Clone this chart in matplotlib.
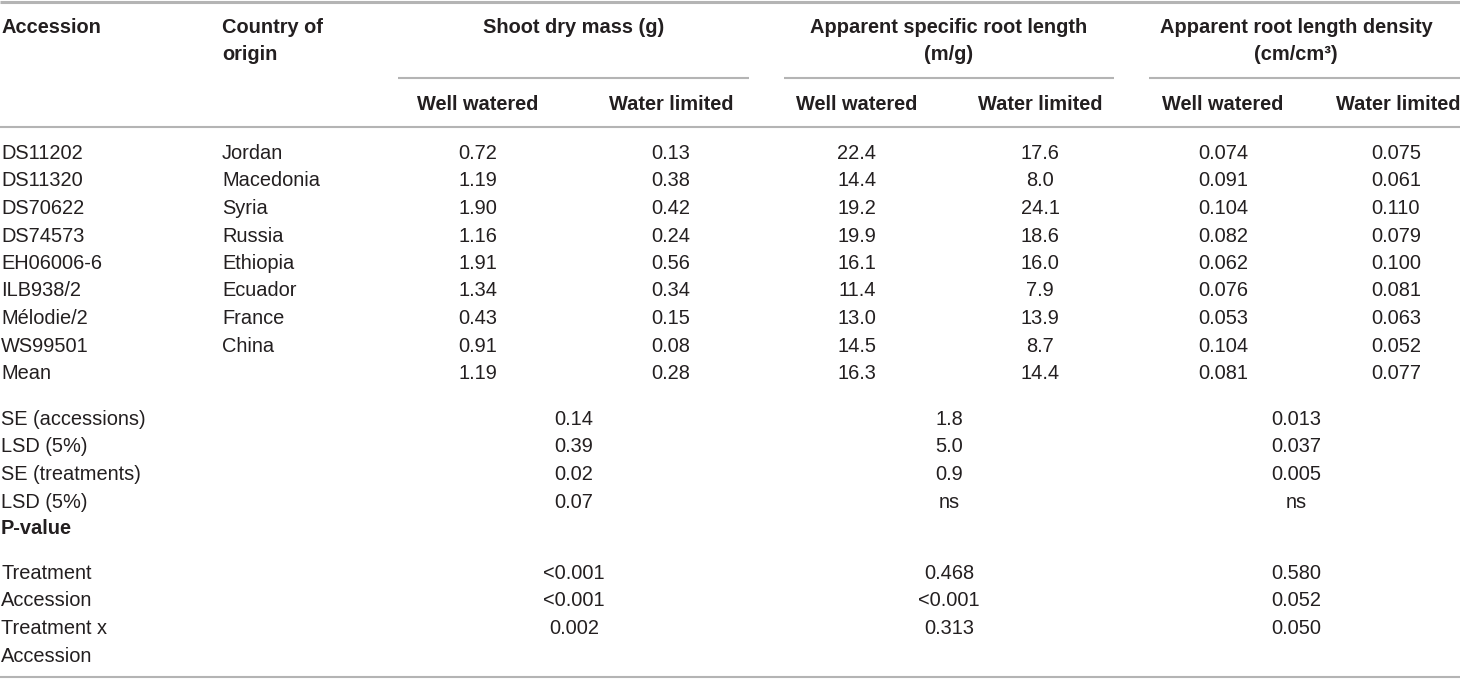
import matplotlib
matplotlib.use("Agg")
import matplotlib.pyplot as plt
from matplotlib.lines import Line2D

plt.rcParams['font.family'] = ['Liberation Sans', 'DejaVu Sans']

# ---- data ----
accessions = ["DS11202", "DS11320", "DS70622", "DS74573", "EH06006-6",
              "ILB938/2", "Mélodie/2", "WS99501", "Mean"]
countries = ["Jordan", "Macedonia", "Syria", "Russia", "Ethiopia",
             "Ecuador", "France", "China", ""]
shoot_ww = ["0.72", "1.19", "1.90", "1.16", "1.91", "1.34", "0.43", "0.91", "1.19"]
shoot_wl = ["0.13", "0.38", "0.42", "0.24", "0.56", "0.34", "0.15", "0.08", "0.28"]
srl_ww = ["22.4", "14.4", "19.2", "19.9", "16.1", "11.4", "13.0", "14.5", "16.3"]
srl_wl = ["17.6", "8.0", "24.1", "18.6", "16.0", "7.9", "13.9", "8.7", "14.4"]
rld_ww = ["0.074", "0.091", "0.104", "0.082", "0.062", "0.076", "0.053", "0.104", "0.081"]
rld_wl = ["0.075", "0.061", "0.110", "0.079", "0.100", "0.081", "0.063", "0.052", "0.077"]

stat_labels = ["SE (accessions)", "LSD (5%)", "SE (treatments)", "LSD (5%)"]
stat_shoot = ["0.14", "0.39", "0.02", "0.07"]
stat_srl = ["1.8", "5.0", "0.9", "ns"]
stat_rld = ["0.013", "0.037", "0.005", "ns"]

p_labels = ["Treatment", "Accession", "Treatment x", "Accession"]
p_shoot = ["<0.001", "<0.001", "0.002", ""]
p_srl = ["0.468", "<0.001", "0.313", ""]
p_rld = ["0.580", "0.052", "0.050", ""]

group_headers = [("Shoot dry mass (g)", ""),
                 ("Apparent specific root length", "(m/g)"),
                 ("Apparent root length density", "(cm/cm³)")]
sub_headers = ["Well watered", "Water limited"]

# ---- layout (pixels) ----
W, H = 1460, 679
fig = plt.figure(figsize=(W / 100, H / 100), dpi=100)
ax = fig.add_axes([0, 0, 1, 1])
ax.set_xlim(0, W)
ax.set_ylim(H, 0)
ax.axis('off')

FS = 14.4
TXT = '#231f20'
LINE = '#b4b4b4'
BOFF = 7  # baseline offset from visual centre

x_acc = 1
x_country = 222
col_centers = [478, 671, 857, 1040, 1223, 1396]
group_centers = [574, 949, 1296]
group_lines = [(398, 749), (784, 1114), (1149, 1460)]


def t(x, yc, s, ha='center', bold=False):
    ax.text(x, yc + BOFF, s, ha=ha, va='baseline', fontsize=FS,
            fontweight='bold' if bold else 'normal', color=TXT)


def hline(x0, x1, y, lw):
    ax.add_line(Line2D([x0, x1], [y, y], color=LINE, lw=lw, solid_capstyle='butt'))


# rules
hline(0, W, 2, 2.2)
for (a, b) in group_lines:
    hline(a, b, 78, 1.5)
hline(0, W, 127, 1.5)
hline(0, W, 677, 1.5)

# header
t(x_acc, 26, "Accession", ha='left', bold=True)
t(x_country, 26, "Country of", ha='left', bold=True)
t(x_country, 53, "origin", ha='left', bold=True)
for gc, (l1, l2) in zip(group_centers, group_headers):
    t(gc, 26, l1, bold=True)
    if l2:
        t(gc, 53, l2, bold=True)
for i, cx in enumerate(col_centers):
    s = sub_headers[i % 2]
    if i == 5:
        t(W, 103, s, ha='right', bold=True)
    else:
        t(cx, 103, s, bold=True)

# data rows
cols = [shoot_ww, shoot_wl, srl_ww, srl_wl, rld_ww, rld_wl]
for r in range(len(accessions)):
    yc = 152 + 27.5 * r
    t(x_acc, yc, accessions[r], ha='left')
    t(x_country, yc, countries[r], ha='left')
    for cx, col in zip(col_centers, cols):
        t(cx, yc, col[r])

# stats rows
for r in range(len(stat_labels)):
    yc = 418 + 27.5 * r
    t(x_acc, yc, stat_labels[r], ha='left')
    for gc, col in zip(group_centers, [stat_shoot, stat_srl, stat_rld]):
        t(gc, yc, col[r])

t(x_acc, 527, "P-value", ha='left', bold=True)

for r in range(len(p_labels)):
    yc = 572 + 27.5 * r
    t(x_acc, yc, p_labels[r], ha='left')
    for gc, col in zip(group_centers, [p_shoot, p_srl, p_rld]):
        if col[r]:
            t(gc, yc, col[r])

fig.savefig("out.png", dpi=100)
